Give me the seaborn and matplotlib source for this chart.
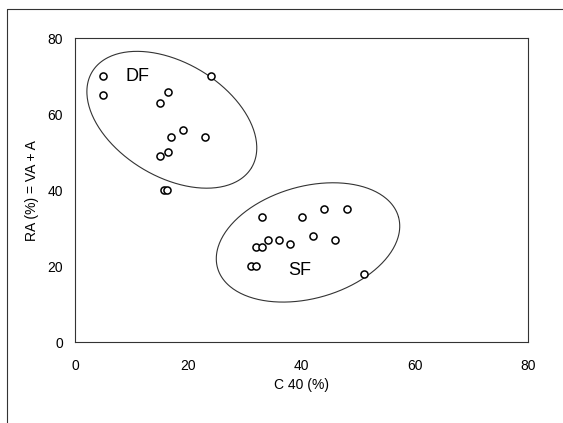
import seaborn as sns
import matplotlib
matplotlib.use('Agg')
import matplotlib.pyplot as plt
from matplotlib.lines import Line2D
import numpy as np
import pandas as pd

# grupo DF (canto superior esquerdo)
df_c40 = [5, 5, 24, 16.5, 15, 19, 17, 23, 16.5, 15, 15.7, 16.2]
df_ra = [70, 65, 70, 66, 63, 56, 54, 54, 50, 49, 40, 40]

# grupo SF (canto inferior direito)
sf_c40 = [33, 40, 44, 48, 42, 46, 34, 36, 38, 32, 33, 31, 32, 51]
sf_ra = [33, 33, 35, 35, 28, 27, 27, 27, 26, 25, 25, 20, 20, 18]

ticks = [0, 20, 40, 60, 80]

dados = pd.DataFrame({
    'C40': df_c40 + sf_c40,
    'RA': df_ra + sf_ra,
    'grupo': ['DF'] * len(df_c40) + ['SF'] * len(sf_c40),
})

sns.set_style('white')
plt.rcParams['font.family'] = ['Liberation Sans', 'DejaVu Sans']
plt.rcParams['text.color'] = 'black'
plt.rcParams['axes.labelcolor'] = 'black'
plt.rcParams['xtick.color'] = 'black'
plt.rcParams['ytick.color'] = 'black'

fig = plt.figure(figsize=(5.63, 4.23), dpi=100)
ax = fig.add_axes([75 / 563, 1 - 342.3 / 423, 453 / 563, 303.8 / 423])

sns.scatterplot(data=dados, x='C40', y='RA', ax=ax, s=26, marker='o',
                facecolor='white', edgecolor='black', linewidth=1.1,
                legend=False, zorder=3)

ax.set_xlim(0, 80)
ax.set_ylim(0, 80)
ax.set_xticks(ticks)
ax.set_yticks(ticks)
ax.tick_params(axis='both', direction='out', length=4, width=0.8,
               color='#222222', labelsize=10)
ax.tick_params(axis='x', pad=8)
ax.tick_params(axis='y', pad=4.5)
for sp in ax.spines.values():
    sp.set_color('#333333')
    sp.set_linewidth(0.8)

ax.set_xlabel('C 40 (%)', fontsize=10)
ax.set_ylabel('RA (%) = VA + A', fontsize=10)
ax.xaxis.set_label_coords(0.5, -0.118)
ax.yaxis.set_label_coords(-0.079, 0.5)

# elipses (semi-eixos em pixels, angulo visual)
sx = 453 / 80
sy = 303.8 / 80
t = np.linspace(0, 2 * np.pi, 300)
for cx, cy, a, b, ang in [(17.1, 58.6, 93, 57, -31), (41.15, 26.3, 94, 56, 15.8)]:
    th = np.radians(ang)
    xe = cx + (a * np.cos(t) * np.cos(th) - b * np.sin(t) * np.sin(th)) / sx
    ye = cy + (a * np.cos(t) * np.sin(th) + b * np.sin(t) * np.cos(th)) / sy
    ax.plot(xe, ye, color='#333333', linewidth=0.8, zorder=2)

ax.text(11, 70, 'DF', fontsize=13, ha='center', va='center')
ax.text(39.6, 19, 'SF', fontsize=13, ha='center', va='center')

# moldura externa (somente esquerda e topo visiveis)
fig.add_artist(Line2D([7.5 / 563, 7.5 / 563], [0, 1 - 9 / 423],
                      transform=fig.transFigure, color='#333333', linewidth=0.8))
fig.add_artist(Line2D([7.5 / 563, 1], [1 - 9 / 423, 1 - 9 / 423],
                      transform=fig.transFigure, color='#333333', linewidth=0.8))

fig.savefig('out.png', dpi=100)
